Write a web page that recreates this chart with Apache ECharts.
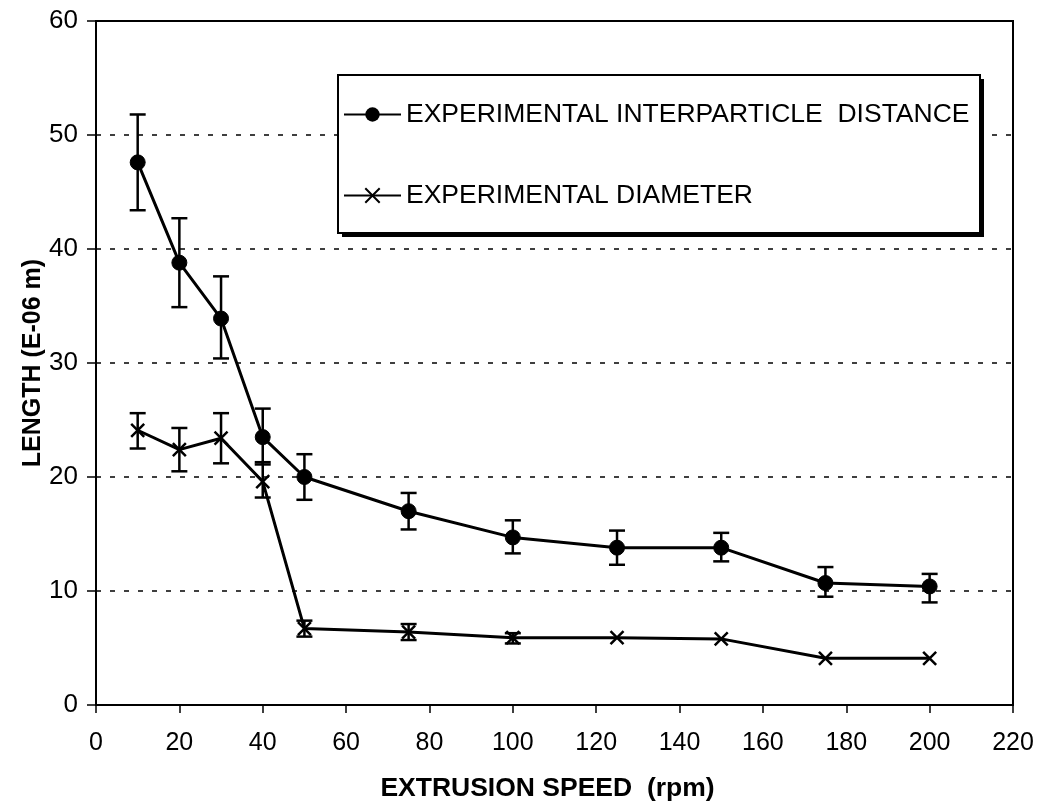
<!DOCTYPE html>
<html>
<head>
<meta charset="utf-8">
<title>Length vs extrusion speed</title>
<script src="https://cdn.jsdelivr.net/npm/echarts@6/dist/echarts.min.js"></script>
<style>
  html, body { margin: 0; padding: 0; background: #fff; }
  #chart { width: 1039px; height: 808px; }
</style>
</head>
<body>
<div id="chart"></div>
<script>
// Extrusion speeds (rpm)
const speeds = [10, 20, 30, 40, 50, 75, 100, 125, 150, 175, 200];

// Interparticle distance (E-06 m): mean, upper and lower error limits
const distance     = [47.6, 38.8, 33.9, 23.5, 20.0, 17.0, 14.7, 13.8, 13.8, 10.7, 10.4];
const distanceHigh = [51.8, 42.7, 37.6, 26.0, 22.0, 18.6, 16.2, 15.3, 15.1, 12.1, 11.5];
const distanceLow  = [43.4, 34.9, 30.4, 21.1, 18.0, 15.4, 13.3, 12.3, 12.6,  9.5,  9.0];

// Particle diameter (E-06 m): mean, upper and lower error limits
const diameter     = [24.1, 22.4, 23.4, 19.6, 6.7, 6.4, 5.9, 5.9, 5.8, 4.1, 4.1];
const diameterHigh = [25.6, 24.3, 25.6, 21.3, 7.4, 7.1, 6.3, null, null, null, null];
const diameterLow  = [22.5, 20.5, 21.2, 18.2, 6.0, 5.7, 5.4, null, null, null, null];

const seriesNames = ['EXPERIMENTAL INTERPARTICLE  DISTANCE', 'EXPERIMENTAL DIAMETER'];
const xTicks = [0, 20, 40, 60, 80, 100, 120, 140, 160, 180, 200, 220];
const yTicks = [0, 10, 20, 30, 40, 50, 60];

const FONT = '"Liberation Sans", Arial, sans-serif';
const crossPath = 'path://M0,0L10,10M10,0L0,10';

function pairs(xs, ys) { return xs.map((x, i) => [x, ys[i]]); }
function errRows(xs, hi, lo) {
  return xs.map((x, i) => [x, lo[i], hi[i]]).filter(r => r[1] != null && r[2] != null);
}

// Vertical error bar with end caps
function errorBar(params, api) {
  const x = api.value(0);
  const top = api.coord([x, api.value(2)]);
  const bot = api.coord([x, api.value(1)]);
  const hw = 8;
  const style = { stroke: '#000', lineWidth: 2.5 };
  return {
    type: 'group',
    children: [
      { type: 'line', shape: { x1: top[0], y1: top[1], x2: bot[0], y2: bot[1] }, style },
      { type: 'line', shape: { x1: top[0] - hw, y1: top[1], x2: top[0] + hw, y2: top[1] }, style },
      { type: 'line', shape: { x1: bot[0] - hw, y1: bot[1], x2: bot[0] + hw, y2: bot[1] }, style }
    ]
  };
}

const chart = echarts.init(document.getElementById('chart'), null, { renderer: 'canvas' });

chart.setOption({
  backgroundColor: '#fff',
  animation: false,
  textStyle: { fontFamily: FONT, color: '#000' },
  grid: {
    left: 96, right: 26, top: 21, bottom: 103,
    show: true, borderColor: '#000', borderWidth: 2, backgroundColor: 'transparent'
  },
  // Framed legend panel with a solid drop shadow
  graphic: [
    {
      type: 'rect', z: 2, silent: true,
      shape: { x: 342, y: 79, width: 642, height: 158 },
      style: { fill: '#000' }
    },
    {
      type: 'rect', z: 3, silent: true,
      shape: { x: 338, y: 75, width: 642, height: 158 },
      style: { fill: '#fff', stroke: '#000', lineWidth: 2 }
    }
  ],
  legend: {
    left: 343, top: 101,
    orient: 'vertical',
    z: 10,
    padding: 0,
    itemGap: 54,
    itemWidth: 57,
    itemHeight: 18,
    textStyle: { fontFamily: FONT, fontSize: 26.5, lineHeight: 26, color: '#000' },
    data: seriesNames
  },
  xAxis: {
    type: 'value',
    min: 0, max: 220, interval: 20,
    name: 'EXTRUSION SPEED  (rpm)',
    nameLocation: 'middle',
    nameGap: 70,
    nameTextStyle: { fontFamily: FONT, fontSize: 26.5, fontWeight: 'bold', color: '#000', padding: [0, 14, 0, 0] },
    axisLine: { lineStyle: { color: '#000', width: 2 } },
    axisTick: { show: true, length: 8, lineStyle: { color: '#000', width: 1.5 } },
    axisLabel: {
      fontFamily: FONT, fontSize: 25, color: '#000', margin: 26,
      formatter: v => (xTicks.includes(v) ? String(v) : '')
    },
    splitLine: { show: false }
  },
  yAxis: {
    type: 'value',
    min: 0, max: 60, interval: 10,
    name: 'LENGTH (E-06 m)',
    nameLocation: 'middle',
    nameGap: 50,
    nameMoveOverlap: false,
    nameTextStyle: { fontFamily: FONT, fontSize: 25, fontWeight: 'bold', color: '#000' },
    axisLine: { lineStyle: { color: '#000', width: 2 } },
    axisTick: { show: true, length: 9, lineStyle: { color: '#000', width: 1.5 } },
    axisLabel: {
      fontFamily: FONT, fontSize: 26, color: '#000', margin: 18,
      formatter: v => (yTicks.includes(v) ? String(v) : '')
    },
    splitLine: { show: true, lineStyle: { color: '#000', width: 1.5, type: [5, 9] } }
  },
  series: [
    {
      type: 'custom',
      name: 'distance error',
      renderItem: errorBar,
      data: errRows(speeds, distanceHigh, distanceLow),
      z: 3,
      silent: true
    },
    {
      type: 'custom',
      name: 'diameter error',
      renderItem: errorBar,
      data: errRows(speeds, diameterHigh, diameterLow),
      z: 3,
      silent: true
    },
    {
      type: 'line',
      name: seriesNames[0],
      data: pairs(speeds, distance),
      symbol: 'circle',
      symbolSize: 15,
      lineStyle: { color: '#000', width: 3 },
      itemStyle: { color: '#000', borderColor: '#000' },
      z: 5
    },
    {
      type: 'line',
      name: seriesNames[1],
      data: pairs(speeds, diameter),
      symbol: crossPath,
      symbolSize: 13,
      lineStyle: { color: '#000', width: 3 },
      itemStyle: { color: '#000', borderColor: '#000', borderWidth: 2.5 },
      z: 5
    }
  ]
});
</script>
</body>
</html>
